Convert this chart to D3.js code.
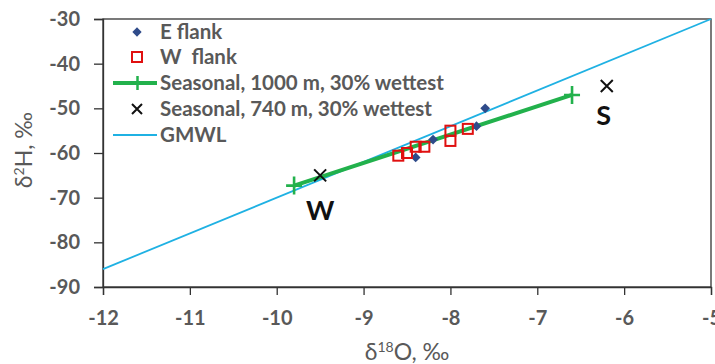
<!DOCTYPE html>
<html><head><meta charset="utf-8">
<script src="https://cdn.jsdelivr.net/npm/d3@7"></script>
<style>body{margin:0;background:#fff}svg{display:block}</style>
</head><body>
<svg id="c" width="715" height="364"></svg>
<script>
// Data
const xTicks = [-12, -11, -10, -9, -8, -7, -6, -5];
const yTicks = [-90, -80, -70, -60, -50, -40, -30];
const eFlankX = [-7.6, -7.7, -8.2, -8.4];
const eFlankY = [-50, -54, -57, -61];
const wFlankX = [-8.6, -8.5, -8.4, -8.3, -8.0, -8.0, -7.8];
const wFlankY = [-60.6, -60, -58.6, -58.6, -55, -57.3, -54.6];
const seas1000X = [-9.8, -6.6];
const seas1000Y = [-67.3, -47];
const seas740X = [-9.5, -6.2];
const seas740Y = [-65, -45];
const seasonLabels = ["W", "S"];
const gmwlX = [-12, -5];
const gmwlY = gmwlX.map(v => 8 * v + 10);
const legendLabels = ["E flank", "W  flank", "Seasonal, 1000 m, 30% wettest", "Seasonal, 740 m, 30% wettest", "GMWL"];

const svg = d3.select("#c");
const x = d3.scaleLinear().domain([-12, -5]).range([103, 711]);
const y = d3.scaleLinear().domain([-90, -30]).range([287, 19]);
const gray = "#595959";
const font = "Lato, 'Open Sans', sans-serif";

// frame
svg.append("rect").attr("x", 103).attr("y", 19).attr("width", 608).attr("height", 268)
  .attr("fill", "none").attr("stroke", "#333").attr("stroke-width", 1.3);

const xa = svg.append("g").attr("transform", "translate(0,287)")
  .call(d3.axisBottom(x).tickValues(xTicks).tickSize(8).tickPadding(16).tickFormat(d => String(d)));
const ya = svg.append("g").attr("transform", "translate(103,0)")
  .call(d3.axisLeft(y).tickValues(yTicks).tickSize(9).tickPadding(14).tickFormat(d => String(d)));
[xa, ya].forEach(a => {
  a.select(".domain").attr("stroke", "#333").attr("stroke-width", 1.3);
  a.selectAll("line").attr("stroke", "#333").attr("stroke-width", 1.3);
  a.selectAll("text").attr("fill", gray).attr("font-family", font).attr("font-weight", "bold").attr("font-size", 20);
});

// GMWL
svg.append("line").attr("x1", x(gmwlX[0])).attr("y1", y(gmwlY[0])).attr("x2", x(gmwlX[1])).attr("y2", y(gmwlY[1]))
  .attr("stroke", "#1fb1e3").attr("stroke-width", 1.8);

// Seasonal 1000 line
svg.append("line").attr("x1", x(seas1000X[0])).attr("y1", y(seas1000Y[0])).attr("x2", x(seas1000X[1])).attr("y2", y(seas1000Y[1]))
  .attr("stroke", "#22b14c").attr("stroke-width", 4);
seas1000X.forEach((v, i) => {
  const cx = x(v), cy = y(seas1000Y[i]);
  svg.append("path").attr("d", `M${cx-8},${cy}H${cx+8}M${cx},${cy-9}V${cy+9}`).attr("stroke", "#22b14c").attr("stroke-width", 2.6);
});

// E flank diamonds
eFlankX.forEach((v, i) => {
  svg.append("path").attr("d", d3.symbol(d3.symbolDiamond2, 60)()).attr("transform", `translate(${x(v)},${y(eFlankY[i])})`)
    .attr("fill", "#2f4b8a");
});
// W flank squares
wFlankX.forEach((v, i) => {
  svg.append("rect").attr("x", x(v) - 5).attr("y", y(wFlankY[i]) - 5).attr("width", 10).attr("height", 10)
    .attr("fill", "none").attr("stroke", "#e01010").attr("stroke-width", 2);
});
// Seasonal 740 X
seas740X.forEach((v, i) => {
  const cx = x(v), cy = y(seas740Y[i]);
  svg.append("path").attr("d", `M${cx-6},${cy-6}L${cx+6},${cy+6}M${cx-6},${cy+6}L${cx+6},${cy-6}`).attr("stroke", "#111").attr("stroke-width", 2);
});
// W / S labels
svg.append("text").attr("x", x(seas740X[0])).attr("y", y(seas740Y[0]) + 45).attr("text-anchor", "middle")
  .attr("font-family", font).attr("font-weight", "bold").attr("font-size", 27).attr("fill", "#111").text(seasonLabels[0]);
svg.append("text").attr("x", x(seas740X[1]) - 3).attr("y", y(seas740Y[1]) + 39).attr("text-anchor", "middle")
  .attr("font-family", font).attr("font-weight", "bold").attr("font-size", 27).attr("fill", "#111").text(seasonLabels[1]);

// Legend
const ly = [32, 57, 83, 109, 135];
const lg = svg.append("g");
lg.append("path").attr("d", d3.symbol(d3.symbolDiamond2, 55)()).attr("transform", `translate(137,${ly[0]})`).attr("fill", "#2f4b8a");
lg.append("rect").attr("x", 132).attr("y", ly[1] - 5).attr("width", 10).attr("height", 10).attr("fill", "none").attr("stroke", "#e01010").attr("stroke-width", 2);
lg.append("line").attr("x1", 113).attr("x2", 157).attr("y1", ly[2]).attr("y2", ly[2]).attr("stroke", "#22b14c").attr("stroke-width", 4);
lg.append("path").attr("d", `M131,${ly[2]}H144M137.5,${ly[2]-7}V${ly[2]+7}`).attr("stroke", "#22b14c").attr("stroke-width", 2.5);
lg.append("path").attr("d", `M132,${ly[3]-5}L142,${ly[3]+5}M132,${ly[3]+5}L142,${ly[3]-5}`).attr("stroke", "#111").attr("stroke-width", 2);
lg.append("line").attr("x1", 113).attr("x2", 157).attr("y1", ly[4]).attr("y2", ly[4]).attr("stroke", "#1fb1e3").attr("stroke-width", 1.8);
legendLabels.forEach((t, i) => {
  lg.append("text").attr("x", 160).attr("y", ly[i]).attr("dy", "0.36em").attr("font-family", font).attr("font-weight", "bold")
    .attr("font-size", 20.5).attr("fill", gray).attr("xml:space", "preserve").style("white-space", "pre").text(t);
});

// Axis titles
const xt = svg.append("text").attr("x", 407).attr("y", 360).attr("text-anchor", "middle").attr("font-family", font)
  .attr("font-size", 23).attr("fill", gray);
xt.append("tspan").text("δ");
xt.append("tspan").attr("font-size", 14).attr("dy", -8).text("18");
xt.append("tspan").attr("dy", 8).text("O, ‰");
const yt = svg.append("text").attr("transform", "translate(32,150) rotate(-90)").attr("text-anchor", "middle").attr("font-family", font)
  .attr("font-size", 23).attr("fill", gray);
yt.append("tspan").text("δ");
yt.append("tspan").attr("font-size", 14).attr("dy", -8).text("2");
yt.append("tspan").attr("dy", 8).text("H, ‰");
</script>
</body></html>
